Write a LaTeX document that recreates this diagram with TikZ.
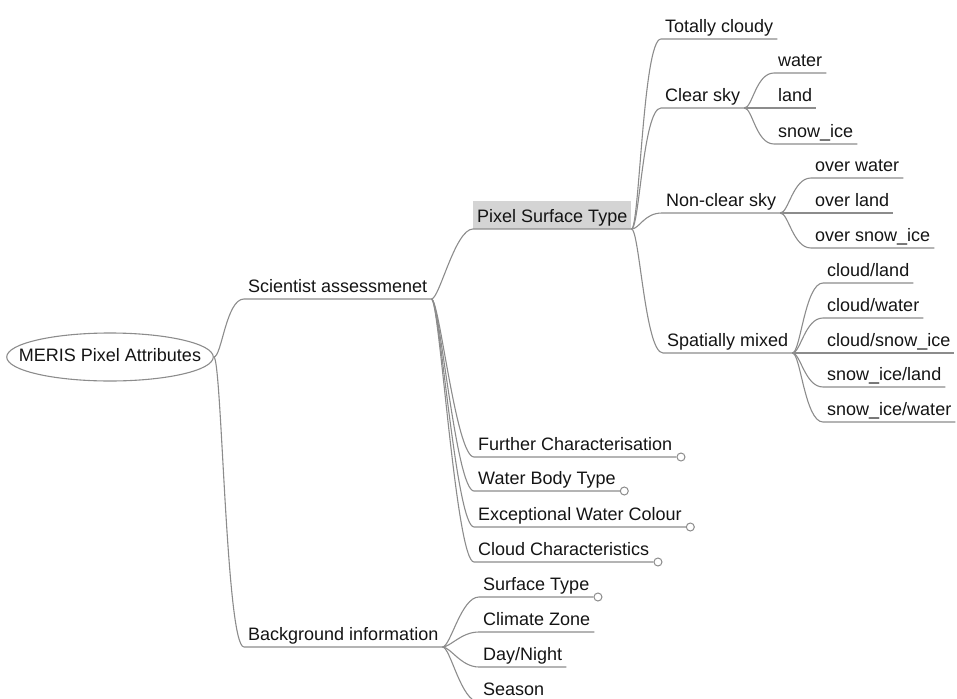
\documentclass[tikz,border=0pt]{standalone}
\usepackage{fontspec}
\setmainfont{Liberation Sans}
\usetikzlibrary{positioning, shapes.geometric}
\definecolor{mmline}{RGB}{140,140,140}
\definecolor{mmtext}{RGB}{20,20,20}
\definecolor{mmsel}{RGB}{212,212,212}
\tikzset{
    topic/.style={anchor=south west, inner xsep=4pt, inner ysep=2pt, text height=13pt, text depth=4pt, text=mmtext, font=\fontsize{18}{22}\selectfont},
    selected/.style={topic, fill=mmsel, text height=20pt},
    central/.style={ellipse, draw=mmline, line width=1.1pt, minimum width=205pt, minimum height=48pt, inner xsep=-18pt, inner ysep=4pt, text height=13pt, text depth=4pt, text=mmtext, font=\fontsize{18}{22}\selectfont},
    fold/.style={circle, draw=mmline, fill=white, line width=1pt, minimum size=8pt, inner sep=0pt},
    link/.style={draw=mmline, line width=1.1pt},
    bough/.style={to path={.. controls +(8,0) and +(-18,0) .. (\tikztotarget)}}
}
\begin{document}
\begin{tikzpicture}[x=1pt, y=-1pt]
    \useasboundingbox (0,0) rectangle (957,698);
    % centre and main branches
    \node[central] (root) at (110,357) {MERIS Pixel Attributes};
    \node[topic] (sci) at (244,299) {Scientist assessmenet};
    \node[topic] (bkg) at (244,647) {Background information};
    % scientist assessment
    \node[selected] (pst) at (473,229) {Pixel Surface Type};
    \node[topic] (fur) at (474,457) {Further Characterisation};
    \node[topic] (wbt) at (474,491) {Water Body Type};
    \node[topic] (ewc) at (474,527) {Exceptional Water Colour};
    \node[topic] (ccs) at (474,562) {Cloud Characteristics};
    % background information
    \node[topic] (sft) at (479,597) {Surface Type};
    \node[topic] (clz) at (479,632) {Climate Zone};
    \node[topic] (dyn) at (479,667) {Day/Night};
    \node[topic] (ssn) at (479,702) {Season};
    % pixel surface type
    \node[topic] (tcl) at (661,39) {Totally cloudy};
    \node[topic] (clr) at (661,108) {Clear sky};
    \node[topic] (ncs) at (662,213) {Non-clear sky};
    \node[topic] (spm) at (663,353) {Spatially mixed};
    \node[topic] (cwa) at (774,73) {water};
    \node[topic] (cla) at (774,108) {land};
    \node[topic] (csi) at (774,144) {snow\_ice};
    \node[topic] (now) at (811,178) {over water};
    \node[topic] (nol) at (811,213) {over land};
    \node[topic] (nos) at (811,248) {over snow\_ice};
    \node[topic] (mcl) at (823,283) {cloud/land};
    \node[topic] (mcw) at (823,318) {cloud/water};
    \node[topic] (mcs) at (823,353) {cloud/snow\_ice};
    \node[topic] (msl) at (823,387) {snow\_ice/land};
    \node[topic] (msw) at (823,422) {snow\_ice/water};

    % connectors
    \foreach \kid in {sci,bkg}
        \draw[link] (root.east) to[bough] (\kid.south west) -- (\kid.south east);
    \foreach \kid in {pst,fur,wbt,ewc,ccs}
        \draw[link] (sci.south east) to[bough] (\kid.south west) -- (\kid.south east);
    \foreach \kid in {sft,clz,dyn,ssn}
        \draw[link] (bkg.south east) to[bough] (\kid.south west) -- (\kid.south east);
    \foreach \kid in {tcl,clr,ncs,spm}
        \draw[link] (pst.south east) to[bough] (\kid.south west) -- (\kid.south east);
    \foreach \kid in {cwa,cla,csi}
        \draw[link] (clr.south east) to[bough] (\kid.south west) -- (\kid.south east);
    \foreach \kid in {now,nol,nos}
        \draw[link] (ncs.south east) to[bough] (\kid.south west) -- (\kid.south east);
    \foreach \kid in {mcl,mcw,mcs,msl,msw}
        \draw[link] (spm.south east) to[bough] (\kid.south west) -- (\kid.south east);

    % collapsed markers
    \node[fold, right=0pt of fur.south east] (furfold) {};
    \node[fold, right=0pt of wbt.south east] (wbtfold) {};
    \node[fold, right=0pt of ewc.south east] (ewcfold) {};
    \node[fold, right=0pt of ccs.south east] (ccsfold) {};
    \node[fold, right=0pt of sft.south east] (sftfold) {};
\end{tikzpicture}
\end{document}
